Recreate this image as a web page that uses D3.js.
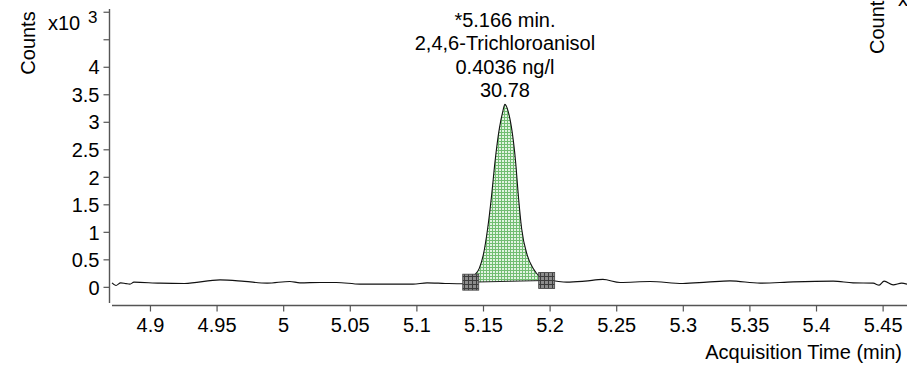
<!DOCTYPE html>
<html>
<head>
<meta charset="utf-8">
<script src="https://cdn.jsdelivr.net/npm/d3@7"></script>
<style>
  body { margin: 0; background: #fff; }
  svg { display: block; font-family: Arial, "Liberation Sans", sans-serif; }
</style>
</head>
<body>
<script>
// acquisition time (min) and counts (x10^3)
var times = [4.8715, 4.8745, 4.878, 4.882, 4.885, 4.888, 4.9075, 4.926, 4.9526, 4.971,
  4.988, 5.005, 5.0126, 5.0276, 5.040, 5.0577, 5.080, 5.0975, 5.108, 5.1215,
  5.135, 5.1408, 5.1427, 5.1472, 5.1502, 5.1535, 5.1565, 5.159, 5.1623, 5.1648,
  5.1665, 5.169, 5.1715, 5.1745, 5.1765, 5.179, 5.1832, 5.1877, 5.1928, 5.1978,
  5.2025, 5.2128, 5.2266, 5.240, 5.2529, 5.2754, 5.300, 5.318, 5.3354, 5.358,
  5.3829, 5.4129, 5.4278, 5.4429, 5.4474, 5.4511, 5.4579, 5.4643, 5.4683];
var counts = [0.073, 0.025, 0.073, 0.058, 0.05, 0.085, 0.067, 0.062, 0.127, 0.10,
  0.067, 0.098, 0.073, 0.08, 0.08, 0.049, 0.049, 0.049, 0.073, 0.062,
  0.055, 0.085, 0.18, 0.335, 0.576, 1.06, 1.67, 2.27, 2.88, 3.18,
  3.316, 3.18, 2.88, 2.27, 1.67, 1.06, 0.576, 0.335, 0.18, 0.116,
  0.11, 0.085, 0.104, 0.135, 0.08, 0.098, 0.062, 0.085, 0.109, 0.067,
  0.091, 0.104, 0.073, 0.067, 0.031, 0.104, 0.036, 0.067, 0.049];

var peakStart = 5.1408, peakEnd = 5.1978, peakApex = 5.1665;
var peakLabel = ["*5.166 min.", "2,4,6-Trichloroanisol", "0.4036 ng/l", "30.78"];

var xTicks = [4.9, 4.95, 5, 5.05, 5.1, 5.15, 5.2, 5.25, 5.3, 5.35, 5.4, 5.45];
var yTicks = [0, 0.5, 1, 1.5, 2, 2.5, 3, 3.5, 4, 4.5, 5];
var yLabeled = [0, 0.5, 1, 1.5, 2, 2.5, 3, 3.5, 4];

var width = 907, height = 366, fs = 20;

var svg = d3.select("body").append("svg")
    .attr("width", width)
    .attr("height", height);

var x = d3.scaleLinear().domain([4.8715, 5.4683]).range([112, 907]);
var y = d3.scaleLinear().domain([-0.33, 5.05]).range([305, 9]);

var defs = svg.append("defs");
var green = defs.append("pattern").attr("id", "grn")
    .attr("patternUnits", "userSpaceOnUse").attr("width", 3).attr("height", 3);
green.append("rect").attr("width", 3).attr("height", 3).attr("fill", "#e2f3e2");
green.append("path").attr("d", "M0,0.5H3M0.5,0V3").attr("stroke", "#72bd72").attr("stroke-width", 1);

var grey = defs.append("pattern").attr("id", "gry")
    .attr("patternUnits", "userSpaceOnUse").attr("width", 4).attr("height", 4);
grey.append("rect").attr("width", 4).attr("height", 4).attr("fill", "#8c8c8c");
grey.append("path").attr("d", "M0,0.5H4M0.5,0V4").attr("stroke", "#3c3c3c").attr("stroke-width", 1);

var pts = times.map(function (t, i) { return { t: t, v: counts[i] }; });

// integrated area between trace and straight baseline
var v0 = counts[times.indexOf(peakStart)], v1 = counts[times.indexOf(peakEnd)];
function base(t) { return v0 + (v1 - v0) * (t - peakStart) / (peakEnd - peakStart); }
var inPeak = pts.filter(function (d) { return d.t >= peakStart && d.t <= peakEnd; });

svg.append("path")
    .datum(inPeak)
    .attr("fill", "url(#grn)")
    .attr("d", d3.area()
        .x(function (d) { return x(d.t); })
        .y0(function (d) { return y(base(d.t)); })
        .y1(function (d) { return y(d.v); })
        .curve(d3.curveMonotoneX));

svg.append("path")
    .datum(pts)
    .attr("fill", "none")
    .attr("stroke", "#111")
    .attr("stroke-width", 1.1)
    .attr("d", d3.line()
        .x(function (d) { return x(d.t); })
        .y(function (d) { return y(d.v); })
        .curve(d3.curveMonotoneX));

svg.append("line")
    .attr("x1", x(peakStart)).attr("y1", y(v0))
    .attr("x2", x(peakEnd)).attr("y2", y(v1))
    .attr("stroke", "#222").attr("stroke-width", 1);

svg.selectAll(".mark")
    .data([[peakStart, v0], [peakEnd, v1]])
    .enter().append("rect")
    .attr("class", "mark")
    .attr("x", function (d) { return x(d[0]) - 8; })
    .attr("y", function (d) { return y(d[1]) - 8; })
    .attr("width", 16).attr("height", 16)
    .attr("fill", "url(#gry)")
    .attr("stroke", "#444").attr("stroke-width", 0.8);

// axes
var yAxis = svg.append("g")
    .attr("transform", "translate(109.5,0)")
    .call(d3.axisLeft(y).tickValues(yTicks).tickSize(6).tickPadding(4)
        .tickFormat(function (d) { return yLabeled.indexOf(d) >= 0 ? d3.format("")(d) : ""; }));

var xAxis = svg.append("g")
    .attr("transform", "translate(0,305.5)")
    .call(d3.axisBottom(x).tickValues(xTicks).tickSize(6).tickPadding(6)
        .tickFormat(d3.format("")));

[yAxis, xAxis].forEach(function (g) {
    g.select(".domain").attr("stroke", "#555").attr("stroke-width", 1.4);
    g.selectAll(".tick line").attr("stroke", "#555").attr("stroke-width", 1.2);
    g.selectAll(".tick text").attr("fill", "#000").style("font-size", fs + "px")
        .style("font-family", "Arial, 'Liberation Sans', sans-serif");
});
yAxis.select(".domain").attr("d", "M0,9V303");
yAxis.selectAll(".tick text").attr("dy", "0.36em");
xAxis.select(".domain").attr("d", "M112,0H907");

// labels
svg.append("text")
    .attr("transform", "translate(35,43) rotate(-90)")
    .attr("text-anchor", "middle")
    .style("font-size", fs + "px")
    .text("Counts");
svg.append("text").attr("x", 48).attr("y", 30).style("font-size", fs + "px").text("x10");
svg.append("text").attr("x", 88).attr("y", 23).style("font-size", "17px").text("3");

svg.append("text")
    .attr("x", 902).attr("y", 359)
    .attr("text-anchor", "end")
    .style("font-size", fs + "px")
    .text("Acquisition Time (min)");

// next panel's label, cut off by the frame
svg.append("text")
    .attr("transform", "translate(884,54) rotate(-90)")
    .style("font-size", fs + "px")
    .text("Counts");
svg.append("text").attr("x", 898).attr("y", 6).style("font-size", fs + "px").text("x10");

svg.append("g").selectAll("text")
    .data(peakLabel)
    .enter().append("text")
    .attr("x", x(peakApex))
    .attr("y", function (d, i) { return 27 + i * 23.4; })
    .attr("text-anchor", "middle")
    .style("font-size", fs + "px")
    .text(function (d) { return d; });
</script>
</body>
</html>
